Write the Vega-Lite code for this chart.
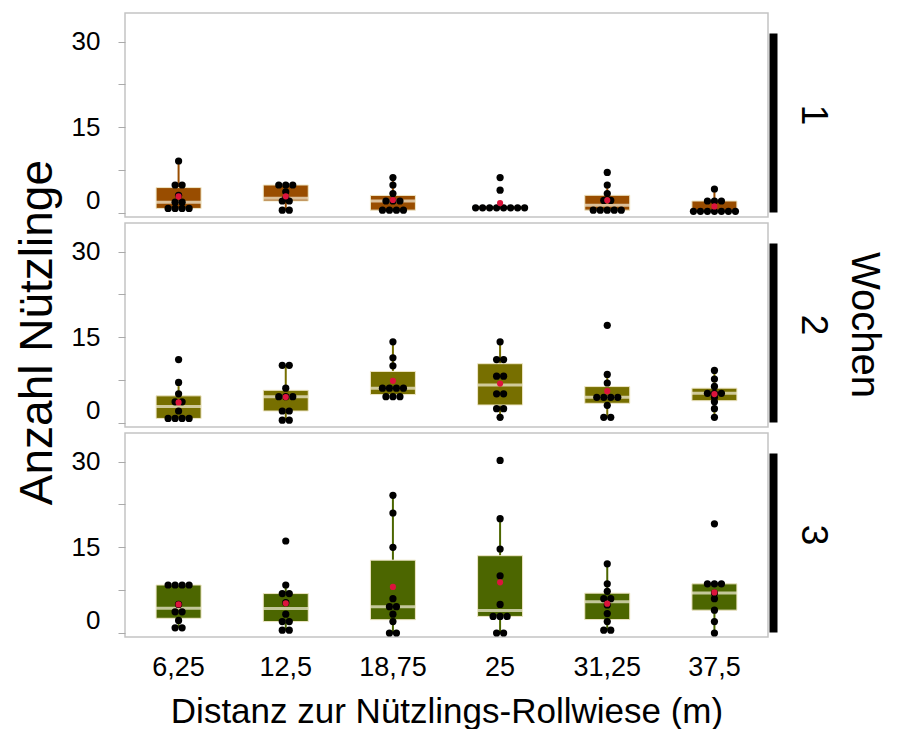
{
  "$schema": "https://vega.github.io/schema/vega-lite/v6.json",
  "background": "white",
  "padding": {"left": 15, "top": 12, "right": 0, "bottom": 0},
  "config": {
    "font": "Liberation Sans",
    "view": {"stroke": "#c4c4c4", "strokeWidth": 1.5},
    "axis": {"grid": false},
    "axisLeft": {"labelFontSize": 26, "labelColor": "black", "labelPadding": 18, "tickSize": 7, "tickColor": "#aaaaaa", "domain": false,
      "labelBaseline": {"condition": {"test": "datum.value === 0", "value": "bottom"}, "value": "middle"}}
  },
  "title": {"text": "Anzahl Nützlinge", "orient": "left", "anchor": "middle", "fontSize": 46, "fontWeight": "normal", "color": "black", "offset": 8, "dx": 38},
  "data": {"values": [
    {"Woche":1,"Distanz":"6,25","Anzahl":9.1},{"Woche":1,"Distanz":"6,25","Anzahl":4.9},{"Woche":1,"Distanz":"6,25","Anzahl":4.9},{"Woche":1,"Distanz":"6,25","Anzahl":3.1},{"Woche":1,"Distanz":"6,25","Anzahl":1.9},{"Woche":1,"Distanz":"6,25","Anzahl":1.9},{"Woche":1,"Distanz":"6,25","Anzahl":0.8},{"Woche":1,"Distanz":"6,25","Anzahl":0.8},{"Woche":1,"Distanz":"6,25","Anzahl":0.8},{"Woche":1,"Distanz":"6,25","Anzahl":0.8},
    {"Woche":1,"Distanz":"12,5","Anzahl":4.9},{"Woche":1,"Distanz":"12,5","Anzahl":4.9},{"Woche":1,"Distanz":"12,5","Anzahl":4.9},{"Woche":1,"Distanz":"12,5","Anzahl":3.7},{"Woche":1,"Distanz":"12,5","Anzahl":2.6},{"Woche":1,"Distanz":"12,5","Anzahl":2.1},{"Woche":1,"Distanz":"12,5","Anzahl":2.1},{"Woche":1,"Distanz":"12,5","Anzahl":0.5},{"Woche":1,"Distanz":"12,5","Anzahl":0.5},
    {"Woche":1,"Distanz":"18,75","Anzahl":6.2},{"Woche":1,"Distanz":"18,75","Anzahl":4.9},{"Woche":1,"Distanz":"18,75","Anzahl":3.4},{"Woche":1,"Distanz":"18,75","Anzahl":2.1},{"Woche":1,"Distanz":"18,75","Anzahl":2.1},{"Woche":1,"Distanz":"18,75","Anzahl":2.1},{"Woche":1,"Distanz":"18,75","Anzahl":0.5},{"Woche":1,"Distanz":"18,75","Anzahl":0.5},{"Woche":1,"Distanz":"18,75","Anzahl":0.5},{"Woche":1,"Distanz":"18,75","Anzahl":0.5},
    {"Woche":1,"Distanz":"25","Anzahl":6.2},{"Woche":1,"Distanz":"25","Anzahl":4.0},{"Woche":1,"Distanz":"25","Anzahl":0.9},{"Woche":1,"Distanz":"25","Anzahl":0.9},{"Woche":1,"Distanz":"25","Anzahl":0.9},{"Woche":1,"Distanz":"25","Anzahl":0.9},{"Woche":1,"Distanz":"25","Anzahl":0.9},{"Woche":1,"Distanz":"25","Anzahl":0.9},{"Woche":1,"Distanz":"25","Anzahl":0.9},{"Woche":1,"Distanz":"25","Anzahl":0.9},
    {"Woche":1,"Distanz":"31,25","Anzahl":7.1},{"Woche":1,"Distanz":"31,25","Anzahl":4.9},{"Woche":1,"Distanz":"31,25","Anzahl":3.4},{"Woche":1,"Distanz":"31,25","Anzahl":2.2},{"Woche":1,"Distanz":"31,25","Anzahl":2.2},{"Woche":1,"Distanz":"31,25","Anzahl":0.5},{"Woche":1,"Distanz":"31,25","Anzahl":0.5},{"Woche":1,"Distanz":"31,25","Anzahl":0.5},{"Woche":1,"Distanz":"31,25","Anzahl":0.5},{"Woche":1,"Distanz":"31,25","Anzahl":0.5},
    {"Woche":1,"Distanz":"37,5","Anzahl":4.2},{"Woche":1,"Distanz":"37,5","Anzahl":2.1},{"Woche":1,"Distanz":"37,5","Anzahl":2.1},{"Woche":1,"Distanz":"37,5","Anzahl":2.1},{"Woche":1,"Distanz":"37,5","Anzahl":0.3},{"Woche":1,"Distanz":"37,5","Anzahl":0.3},{"Woche":1,"Distanz":"37,5","Anzahl":0.3},{"Woche":1,"Distanz":"37,5","Anzahl":0.3},{"Woche":1,"Distanz":"37,5","Anzahl":0.3},{"Woche":1,"Distanz":"37,5","Anzahl":0.3},{"Woche":1,"Distanz":"37,5","Anzahl":0.3},
    {"Woche":2,"Distanz":"6,25","Anzahl":11.1},{"Woche":2,"Distanz":"6,25","Anzahl":7.1},{"Woche":2,"Distanz":"6,25","Anzahl":5.1},{"Woche":2,"Distanz":"6,25","Anzahl":3.7},{"Woche":2,"Distanz":"6,25","Anzahl":3.7},{"Woche":2,"Distanz":"6,25","Anzahl":2.1},{"Woche":2,"Distanz":"6,25","Anzahl":0.8},{"Woche":2,"Distanz":"6,25","Anzahl":0.8},{"Woche":2,"Distanz":"6,25","Anzahl":0.8},{"Woche":2,"Distanz":"6,25","Anzahl":0.8},
    {"Woche":2,"Distanz":"12,5","Anzahl":10.1},{"Woche":2,"Distanz":"12,5","Anzahl":10.1},{"Woche":2,"Distanz":"12,5","Anzahl":6.1},{"Woche":2,"Distanz":"12,5","Anzahl":4.6},{"Woche":2,"Distanz":"12,5","Anzahl":4.6},{"Woche":2,"Distanz":"12,5","Anzahl":4.6},{"Woche":2,"Distanz":"12,5","Anzahl":2.1},{"Woche":2,"Distanz":"12,5","Anzahl":2.1},{"Woche":2,"Distanz":"12,5","Anzahl":0.5},{"Woche":2,"Distanz":"12,5","Anzahl":0.5},
    {"Woche":2,"Distanz":"18,75","Anzahl":14.2},{"Woche":2,"Distanz":"18,75","Anzahl":11.4},{"Woche":2,"Distanz":"18,75","Anzahl":10.0},{"Woche":2,"Distanz":"18,75","Anzahl":6.1},{"Woche":2,"Distanz":"18,75","Anzahl":6.1},{"Woche":2,"Distanz":"18,75","Anzahl":6.1},{"Woche":2,"Distanz":"18,75","Anzahl":6.1},{"Woche":2,"Distanz":"18,75","Anzahl":4.6},{"Woche":2,"Distanz":"18,75","Anzahl":4.6},{"Woche":2,"Distanz":"18,75","Anzahl":4.6},
    {"Woche":2,"Distanz":"25","Anzahl":14.2},{"Woche":2,"Distanz":"25","Anzahl":11.1},{"Woche":2,"Distanz":"25","Anzahl":11.1},{"Woche":2,"Distanz":"25","Anzahl":8.2},{"Woche":2,"Distanz":"25","Anzahl":8.2},{"Woche":2,"Distanz":"25","Anzahl":5.1},{"Woche":2,"Distanz":"25","Anzahl":5.1},{"Woche":2,"Distanz":"25","Anzahl":2.5},{"Woche":2,"Distanz":"25","Anzahl":2.5},{"Woche":2,"Distanz":"25","Anzahl":1.0},
    {"Woche":2,"Distanz":"31,25","Anzahl":17.1},{"Woche":2,"Distanz":"31,25","Anzahl":8.5},{"Woche":2,"Distanz":"31,25","Anzahl":7.0},{"Woche":2,"Distanz":"31,25","Anzahl":4.5},{"Woche":2,"Distanz":"31,25","Anzahl":4.5},{"Woche":2,"Distanz":"31,25","Anzahl":4.5},{"Woche":2,"Distanz":"31,25","Anzahl":4.5},{"Woche":2,"Distanz":"31,25","Anzahl":3.1},{"Woche":2,"Distanz":"31,25","Anzahl":1.0},{"Woche":2,"Distanz":"31,25","Anzahl":1.0},
    {"Woche":2,"Distanz":"37,5","Anzahl":9.2},{"Woche":2,"Distanz":"37,5","Anzahl":7.7},{"Woche":2,"Distanz":"37,5","Anzahl":6.4},{"Woche":2,"Distanz":"37,5","Anzahl":5.2},{"Woche":2,"Distanz":"37,5","Anzahl":5.2},{"Woche":2,"Distanz":"37,5","Anzahl":5.2},{"Woche":2,"Distanz":"37,5","Anzahl":4.5},{"Woche":2,"Distanz":"37,5","Anzahl":3.7},{"Woche":2,"Distanz":"37,5","Anzahl":2.5},{"Woche":2,"Distanz":"37,5","Anzahl":1.0},
    {"Woche":3,"Distanz":"6,25","Anzahl":8.4},{"Woche":3,"Distanz":"6,25","Anzahl":8.4},{"Woche":3,"Distanz":"6,25","Anzahl":8.4},{"Woche":3,"Distanz":"6,25","Anzahl":8.4},{"Woche":3,"Distanz":"6,25","Anzahl":5.0},{"Woche":3,"Distanz":"6,25","Anzahl":3.7},{"Woche":3,"Distanz":"6,25","Anzahl":3.7},{"Woche":3,"Distanz":"6,25","Anzahl":2.2},{"Woche":3,"Distanz":"6,25","Anzahl":0.9},{"Woche":3,"Distanz":"6,25","Anzahl":0.9},
    {"Woche":3,"Distanz":"12,5","Anzahl":16.1},{"Woche":3,"Distanz":"12,5","Anzahl":8.4},{"Woche":3,"Distanz":"12,5","Anzahl":6.9},{"Woche":3,"Distanz":"12,5","Anzahl":6.9},{"Woche":3,"Distanz":"12,5","Anzahl":5.3},{"Woche":3,"Distanz":"12,5","Anzahl":3.3},{"Woche":3,"Distanz":"12,5","Anzahl":2.0},{"Woche":3,"Distanz":"12,5","Anzahl":2.0},{"Woche":3,"Distanz":"12,5","Anzahl":0.5},{"Woche":3,"Distanz":"12,5","Anzahl":0.5},
    {"Woche":3,"Distanz":"18,75","Anzahl":24.1},{"Woche":3,"Distanz":"18,75","Anzahl":21.0},{"Woche":3,"Distanz":"18,75","Anzahl":15.0},{"Woche":3,"Distanz":"18,75","Anzahl":6.0},{"Woche":3,"Distanz":"18,75","Anzahl":4.6},{"Woche":3,"Distanz":"18,75","Anzahl":4.6},{"Woche":3,"Distanz":"18,75","Anzahl":3.3},{"Woche":3,"Distanz":"18,75","Anzahl":2.0},{"Woche":3,"Distanz":"18,75","Anzahl":0},{"Woche":3,"Distanz":"18,75","Anzahl":0},
    {"Woche":3,"Distanz":"25","Anzahl":30.2},{"Woche":3,"Distanz":"25","Anzahl":20.0},{"Woche":3,"Distanz":"25","Anzahl":14.7},{"Woche":3,"Distanz":"25","Anzahl":10.0},{"Woche":3,"Distanz":"25","Anzahl":5.0},{"Woche":3,"Distanz":"25","Anzahl":2.9},{"Woche":3,"Distanz":"25","Anzahl":2.9},{"Woche":3,"Distanz":"25","Anzahl":2.9},{"Woche":3,"Distanz":"25","Anzahl":0},{"Woche":3,"Distanz":"25","Anzahl":0},
    {"Woche":3,"Distanz":"31,25","Anzahl":12.1},{"Woche":3,"Distanz":"31,25","Anzahl":8.6},{"Woche":3,"Distanz":"31,25","Anzahl":7.3},{"Woche":3,"Distanz":"31,25","Anzahl":6.0},{"Woche":3,"Distanz":"31,25","Anzahl":6.0},{"Woche":3,"Distanz":"31,25","Anzahl":4.9},{"Woche":3,"Distanz":"31,25","Anzahl":3.4},{"Woche":3,"Distanz":"31,25","Anzahl":2.0},{"Woche":3,"Distanz":"31,25","Anzahl":0.5},{"Woche":3,"Distanz":"31,25","Anzahl":0.5},
    {"Woche":3,"Distanz":"37,5","Anzahl":19.1},{"Woche":3,"Distanz":"37,5","Anzahl":8.6},{"Woche":3,"Distanz":"37,5","Anzahl":8.6},{"Woche":3,"Distanz":"37,5","Anzahl":8.6},{"Woche":3,"Distanz":"37,5","Anzahl":7.0},{"Woche":3,"Distanz":"37,5","Anzahl":6.0},{"Woche":3,"Distanz":"37,5","Anzahl":4.0},{"Woche":3,"Distanz":"37,5","Anzahl":2.0},{"Woche":3,"Distanz":"37,5","Anzahl":0}
  ]},
  "transform": [
    {"window": [{"op": "row_number", "as": "idx"}, {"op": "count", "as": "cnt"}], "groupby": ["Woche", "Distanz", "Anzahl"], "frame": [null, null]},
    {"calculate": "datum.idx - (datum.cnt + 1) / 2", "as": "off"}
  ],
  "facet": {
    "row": {
      "field": "Woche", "type": "ordinal", "title": "Wochen",
      "header": {
        "labelOrient": "right", "titleOrient": "right",
        "labelAngle": 90, "titleAngle": 90,
        "labelFontSize": 37, "titleFontSize": 40,
        "labelColor": "black", "titleColor": "black",
        "titleFontWeight": "normal",
        "labelPadding": 20, "titlePadding": 2
      }
    }
  },
  "spacing": 4,
  "resolve": {"scale": {"y": "independent"}, "axis": {"y": "independent"}},
  "spec": {
    "width": 643,
    "height": 204,
    "layer": [
      {
        "encoding": {
          "x": {
            "field": "Distanz", "type": "nominal",
            "sort": ["6,25", "12,5", "18,75", "25", "31,25", "37,5"],
            "scale": {"paddingInner": 0, "paddingOuter": 0},
            "axis": {
              "title": "Distanz zur Nützlings-Rollwiese (m)", "titleFontSize": 35, "titleFontWeight": "normal", "titleColor": "black", "titlePadding": 14,
              "labelAngle": 0, "labelFontSize": 27, "labelColor": "black", "labelPadding": 16,
              "ticks": false, "domain": false
            }
          }
        },
        "layer": [
          {
            "mark": {
              "type": "boxplot", "extent": 1.5, "size": 45, "outliers": false,
              "box": {"stroke": "#efe7c6", "strokeWidth": 1},
              "median": {"color": "#f7f1dc", "thickness": 3},
              "rule": {"strokeWidth": 2, "color": {"expr": "datum.Woche == 1 ? '#994d00' : datum.Woche == 2 ? '#776f00' : '#4c6600'"}},
              "ticks": false
            },
            "encoding": {
              "y": {
                "field": "Anzahl", "type": "quantitative",
                "scale": {"domain": [-0.7, 35], "nice": false, "zero": false},
                "axis": {"title": null, "values": [0, 7.5, 15, 22.5, 30], "labelExpr": "datum.value % 15 === 0 ? datum.label : ''"}
              },
              "color": {"field": "Woche", "type": "nominal", "scale": {"domain": [1, 2, 3], "range": ["#994d00", "#776f00", "#4c6600"]}, "legend": null}
            }
          },
          {
            "mark": {"type": "point", "filled": true, "color": "black", "size": 52, "opacity": 1},
            "encoding": {
              "xOffset": {"field": "off", "type": "quantitative", "scale": {"domain": [-4, 4], "range": [25.6, 81.6]}},
              "y": {
                "field": "Anzahl", "type": "quantitative",
                "axis": {"title": null, "values": [0, 7.5, 15, 22.5, 30], "labelExpr": "datum.value % 15 === 0 ? datum.label : ''"}
              }
            }
          },
          {
            "mark": {"type": "point", "filled": true, "color": "#dc143c", "size": 38, "opacity": 1},
            "encoding": {
              "y": {
                "field": "Anzahl", "aggregate": "mean", "type": "quantitative",
                "axis": {"title": null, "values": [0, 7.5, 15, 22.5, 30], "labelExpr": "datum.value % 15 === 0 ? datum.label : ''"}
              }
            }
          }
        ]
      },
      {
        "mark": {"type": "rule", "opacity": 0},
        "encoding": {
          "y": {
            "field": "Anzahl", "type": "quantitative",
            "scale": {"domain": [-0.7, 35], "nice": false, "zero": false, "range": [199, 20]},
            "axis": {"orient": "right", "title": null, "labels": false, "ticks": false, "domain": true, "domainColor": "black", "domainWidth": 8, "domainCap": "butt", "offset": 5}
          }
        }
      }
    ],
    "resolve": {"scale": {"y": "independent"}, "axis": {"y": "independent"}}
  }
}
